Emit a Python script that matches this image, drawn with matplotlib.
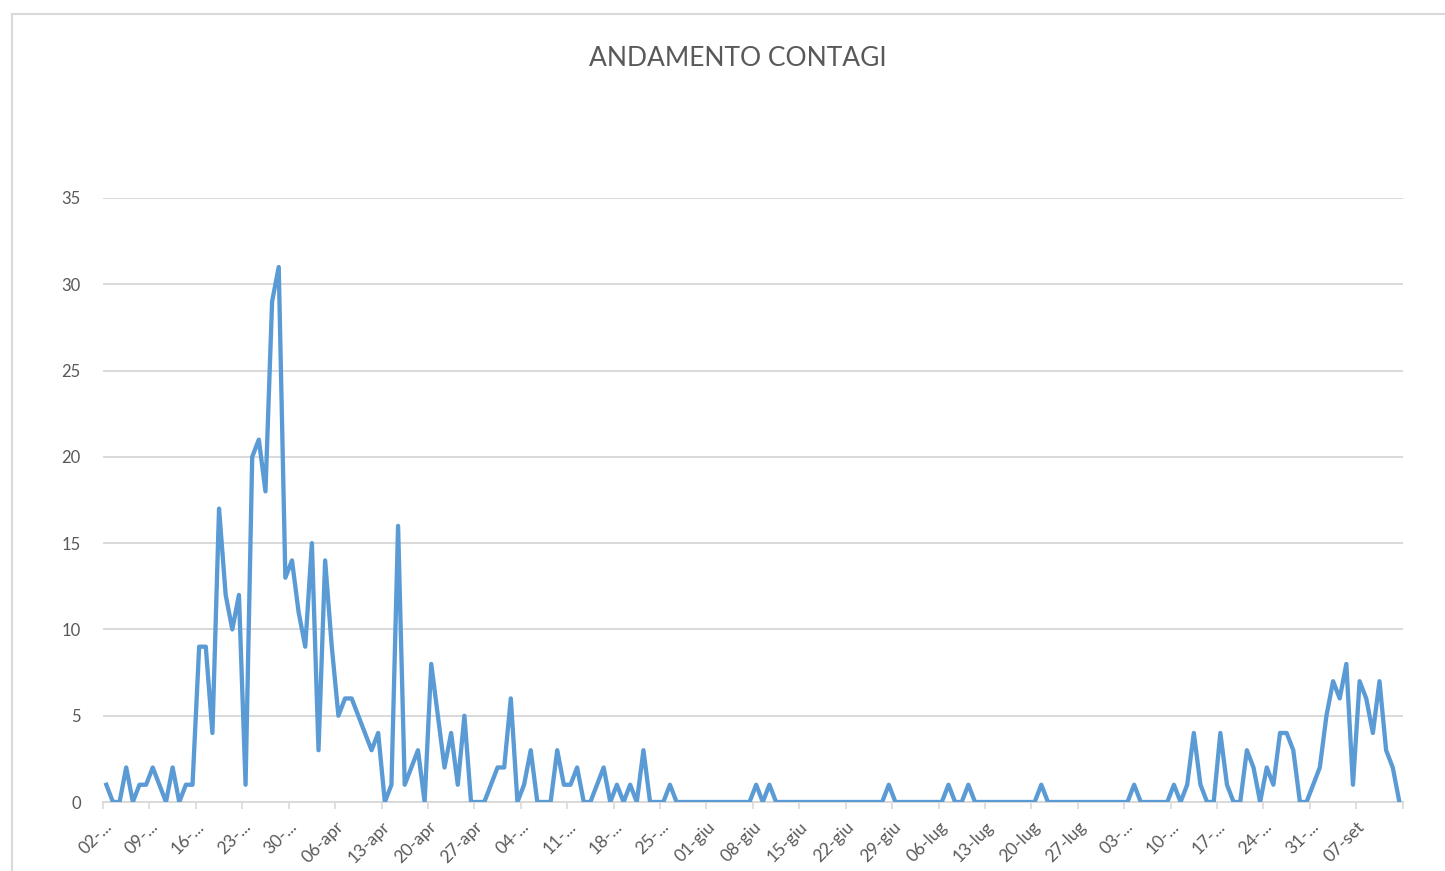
import matplotlib
matplotlib.use("Agg")
import matplotlib.pyplot as plt
from matplotlib.lines import Line2D
from matplotlib.transforms import ScaledTranslation
import numpy as np

# Daily new cases, 02-mar .. 13-set
contagi = [
    1, 0, 0, 2, 0, 1, 1, 2, 1, 0, 2, 0, 1, 1,
    9, 9, 4, 17, 12, 10, 12, 1, 20, 21, 18, 29, 31, 13,
    14, 11, 9, 15, 3, 14, 9, 5, 6, 6, 5, 4, 3, 4,
    0, 1, 16, 1, 2, 3, 0, 8, 5, 2, 4, 1, 5, 0,
    0, 0, 1, 2, 2, 6, 0, 1, 3, 0, 0, 0, 3, 1,
    1, 2, 0, 0, 1, 2, 0, 1, 0, 1, 0, 3, 0, 0,
    0, 1, 0, 0, 0, 0, 0, 0, 0, 0, 0, 0, 0, 0,
    1, 0, 1, 0, 0, 0, 0, 0, 0, 0, 0, 0, 0, 0,
    0, 0, 0, 0, 0, 0, 1, 0, 0, 0, 0, 0, 0, 0,
    0, 1, 0, 0, 1, 0, 0, 0, 0, 0, 0, 0, 0, 0,
    0, 1, 0, 0, 0, 0, 0, 0, 0, 0, 0, 0, 0, 0,
    0, 1, 0, 0, 0, 0, 0, 1, 0, 1, 4, 1, 0, 0,
    4, 1, 0, 0, 3, 2, 0, 2, 1, 4, 4, 3, 0, 0,
    1, 2, 5, 7, 6, 8, 1, 7, 6, 4, 7, 3, 2, 0,
]

tick_labels = [
    "02-...", "09-...", "16-...", "23-...", "30-...",
    "06-apr", "13-apr", "20-apr", "27-apr",
    "04-...", "11-...", "18-...", "25-...",
    "01-giu", "08-giu", "15-giu", "22-giu", "29-giu",
    "06-lug", "13-lug", "20-lug", "27-lug",
    "03-...", "10-...", "17-...", "24-...", "31-...",
    "07-set",
]
y_ticks = [0, 5, 10, 15, 20, 25, 30, 35]

plt.rcParams['font.family'] = ['Lato', 'DejaVu Sans']

W, H = 1445, 871
fig = plt.figure(figsize=(W / 100, H / 100), dpi=100)
ax = fig.add_axes([103 / W, 1 - 802 / H, (1402.7 - 103) / W, (802 - 198) / H])

n = len(contagi)
x = np.arange(n) + 0.5
ax.plot(x, contagi, color="#5B9BD5", linewidth=3.1, solid_joinstyle="round", zorder=3)

ax.set_xlim(0, n)
ax.set_ylim(0, 35)
ax.set_yticks(y_ticks)
ax.set_yticklabels([str(v) for v in y_ticks])
ax.yaxis.grid(True, color="#d9d9d9", linewidth=1.4)
ax.set_axisbelow(True)

tick_pos = list(range(0, 7 * len(tick_labels), 7)) + [n]
ax.set_xticks(tick_pos)
ax.set_xticklabels(tick_labels + [""], rotation=45, ha="right", va="center",
                   rotation_mode="anchor")

for s in ["left", "right", "top"]:
    ax.spines[s].set_visible(False)
ax.spines["bottom"].set_color("#d9d9d9")
ax.spines["bottom"].set_linewidth(1.4)

ax.tick_params(axis="y", length=0, pad=16, labelsize=12, labelcolor="#595959")
ax.tick_params(axis="x", length=5, width=1.2, color="#d9d9d9", pad=11,
               labelsize=12.5, labelcolor="#595959")
offset = ScaledTranslation(6 / 100, 0, fig.dpi_scale_trans)
for lab in ax.get_xticklabels():
    lab.set_transform(lab.get_transform() + offset)

fig.text(738 / W, 1 - 58 / H, "ANDAMENTO CONTAGI", ha="center", va="center",
         fontsize=19, color="#595959")

# chart area border (left and top edges visible)
fig.add_artist(Line2D([12 / W, 12 / W], [0, 1 - 14 / H], color="#d9d9d9",
                      linewidth=1.5, transform=fig.transFigure))
fig.add_artist(Line2D([12 / W, 1], [1 - 14 / H, 1 - 14 / H], color="#d9d9d9",
                      linewidth=1.5, transform=fig.transFigure))

fig.savefig("out.png", dpi=100, facecolor="white")
